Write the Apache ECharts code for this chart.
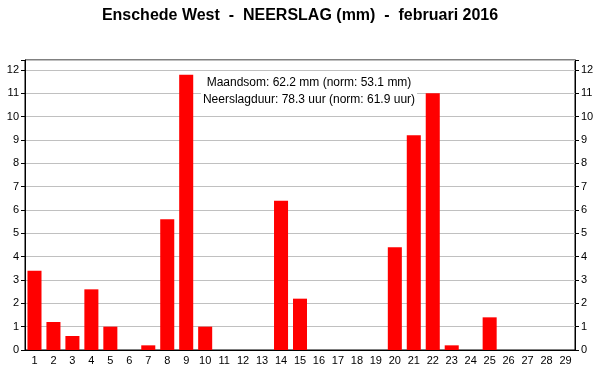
<!DOCTYPE html>
<html><head><meta charset="utf-8">
<script src="https://cdn.jsdelivr.net/npm/echarts@6/dist/echarts.min.js"></script>
<style>html,body{margin:0;padding:0;background:#fff}#c{width:600px;height:390px}</style>
</head><body><div id="c"></div>
<script>
const days = ["1","2","3","4","5","6","7","8","9","10","11","12","13","14","15","16","17","18","19","20","21","22","23","24","25","26","27","28","29"];
const neerslag = [3.4,1.2,0.6,2.6,1.0,0,0.2,5.6,11.8,1.0,0,0,0,6.4,2.2,0,0,0,0,4.4,9.2,11.0,0.2,0,1.4,0,0,0,0];
const titleText = "Enschede West  -  NEERSLAG (mm)  -  februari 2016";
const noteLines = ["Maandsom: 62.2 mm (norm: 53.1 mm)", "Neerslagduur: 78.3 uur (norm: 61.9 uur)"];

const chart = echarts.init(document.getElementById('c'));
const font = "Liberation Sans, Arial, sans-serif";
const yAxisBase = {
  type: 'value', min: 0, max: 12.43, interval: 1,
  axisLine: {show: true, lineStyle: {color: '#000', width: 1}},
  axisTick: {show: true, length: 4, lineStyle: {color: '#000'}},
  axisLabel: {color: '#000', fontSize: 11, fontFamily: font, margin: 6,
    formatter: v => (Math.abs(v - Math.round(v)) < 1e-6 ? String(Math.round(v)) : '')},
};
chart.setOption({
  animation: false,
  title: {text: titleText, left: 'center', top: 3,
    textStyle: {fontSize: 16, fontWeight: 'bold', fontFamily: font, color: '#000'}},
  grid: {left: 25, right: 25, top: 60, bottom: 40, show: true, borderColor: '#000', borderWidth: 1},
  xAxis: {type: 'category', data: days,
    axisLine: {lineStyle: {color: '#000'}},
    axisTick: {alignWithLabel: true, length: 4, lineStyle: {color: '#000'}},
    axisLabel: {color: '#000', fontSize: 11, fontFamily: font, margin: 5, interval: 0}},
  yAxis: [
    Object.assign({}, yAxisBase, {position: 'left',
      splitLine: {show: true, lineStyle: {color: '#c0c0c0', width: 1}}}),
    Object.assign({}, yAxisBase, {position: 'right', splitLine: {show: false}})
  ],
  graphic: [{
    type: 'text', x: 309, y: 73, z: 100,
    style: {text: noteLines.join('\n'), font: '12px ' + font, fill: '#000',
      align: 'center', verticalAlign: 'top', lineHeight: 17, backgroundColor: '#fff', padding: [1, 2]}
  }],
  series: [{
    type: 'bar', data: neerslag, barCategoryGap: '26%',
    itemStyle: {color: '#ff0000'}
  }]
});
</script></body></html>
